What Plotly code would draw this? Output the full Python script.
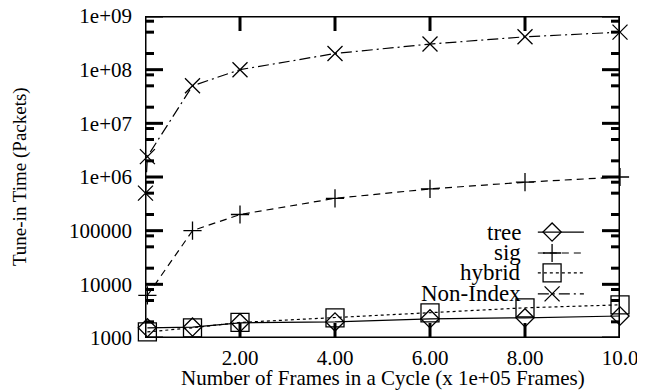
import plotly.graph_objects as go

# ---- data ----
x_tree = [0.05, 1, 2, 4, 6, 8, 10]
tree = [1550, 1600, 1920, 1990, 2280, 2380, 2570]

x_sig = [0.05, 1, 2, 4, 6, 8, 10]
sig = [6200, 1.0e5, 2.0e5, 4.0e5, 6.0e5, 8.0e5, 1.0e6]

x_hybrid = [0.05, 1, 2, 4, 6, 8, 10]
hybrid = [1300, 1550, 1950, 2380, 2950, 3650, 4150]

x_nonindex = [0.01, 0.05, 1, 2, 4, 6, 8, 10]
nonindex = [5.0e5, 2.4e6, 5.0e7, 1.0e8, 2.0e8, 3.0e8, 4.1e8, 5.0e8]

x_tickvals = [2, 4, 6, 8, 10]
x_ticktext = ["2.00", "4.00", "6.00", "8.00", "10.0"]
y_tickvals = [1e3, 1e4, 1e5, 1e6, 1e7, 1e8, 1e9]
y_ticktext = ["1000", "10000", "100000", "1e+06", "1e+07", "1e+08", "1e+09"]

series_names = ["tree", "sig", "hybrid", "Non-Index"]

# ---- styles / layout constants ----
FONT = "Liberation Serif"
X_RANGE = [0, 10]
Y_LOG_RANGE = [3, 9]
PLOT_W, PLOT_H = 475, 322
styles = {
    "tree": dict(symbol="diamond-open", size=14, dash="solid"),
    "sig": dict(symbol="cross-thin-open", size=13, dash="7px,5px"),
    "hybrid": dict(symbol="square-open", size=18, dash="3px,3px"),
    "Non-Index": dict(symbol="x-thin-open", size=15, dash="11px,4px,2px,4px"),
}
data = {
    "tree": (x_tree, tree),
    "sig": (x_sig, sig),
    "hybrid": (x_hybrid, hybrid),
    "Non-Index": (x_nonindex, nonindex),
}


def frac_to_xy(fx, fy):
    """plot-area fraction -> axis coordinates"""
    x = X_RANGE[0] + fx * (X_RANGE[1] - X_RANGE[0])
    y = 10 ** (Y_LOG_RANGE[0] + fy * (Y_LOG_RANGE[1] - Y_LOG_RANGE[0]))
    return x, y


fig = go.Figure()

# ---- frame and inside ticks (mirrored), drawn through the axes ----
frame_x, frame_y = [], []
for fx, fy in ((0, 0), (1, 0), (1, 1), (0, 1), (0, 0)):
    px, py = frac_to_xy(fx, fy)
    frame_x.append(px)
    frame_y.append(py)
fig.add_trace(go.Scatter(x=frame_x, y=frame_y, mode="lines", showlegend=False,
                         hoverinfo="skip", cliponaxis=False,
                         line=dict(color="black", width=3)))

tick_x, tick_y = [], []
xt = 15 / PLOT_H
for v in x_tickvals:
    for fa, fb in ((0, xt), (1 - xt, 1)):
        _, ya = frac_to_xy(0, fa)
        _, yb = frac_to_xy(0, fb)
        tick_x += [v, v, None]
        tick_y += [ya, yb, None]
yt = 18 / PLOT_W
for v in y_tickvals:
    for fa, fb in ((0, yt), (1 - yt, 1)):
        xa, _ = frac_to_xy(fa, 0)
        xb, _ = frac_to_xy(fb, 0)
        tick_x += [xa, xb, None]
        tick_y += [v, v, None]
minor_vals = [m * 10 ** e for e in range(3, 9) for m in (2, 5, 8)]
mt = 9 / PLOT_W
for v in minor_vals:
    for fa, fb in ((0, mt), (1 - mt, 1)):
        xa, _ = frac_to_xy(fa, 0)
        xb, _ = frac_to_xy(fb, 0)
        tick_x += [xa, xb, None]
        tick_y += [v, v, None]
fig.add_trace(go.Scatter(x=tick_x, y=tick_y, mode="lines", showlegend=False,
                         hoverinfo="skip", cliponaxis=False,
                         line=dict(color="black", width=3)))

# ---- data series ----
for name in series_names:
    xs, ys = data[name]
    st = styles[name]
    fig.add_trace(go.Scatter(
        x=xs, y=ys, mode="lines+markers", name=name, showlegend=False,
        cliponaxis=False,
        line=dict(color="black", width=1.2, dash=st["dash"]),
        marker=dict(symbol=st["symbol"], size=st["size"], color="black",
                    line=dict(color="black", width=1.3)),
    ))

# ---- custom legend (text left of sample, as in the reference) ----
leg_rows = [0.329, 0.264, 0.202, 0.137]
leg_text_x = 0.796
leg_line_x = [0.827, 0.924]
leg_marker_x = 0.857
for name, ry in zip(series_names, leg_rows):
    st = styles[name]
    x0, yy = frac_to_xy(leg_line_x[0], ry)
    x1, _ = frac_to_xy(leg_line_x[1], ry)
    xm, _ = frac_to_xy(leg_marker_x, ry)
    fig.add_trace(go.Scatter(
        x=[x0, x1], y=[yy, yy], mode="lines",
        showlegend=False, hoverinfo="skip", cliponaxis=False,
        line=dict(color="black", width=1.2, dash=st["dash"]),
    ))
    fig.add_trace(go.Scatter(
        x=[xm], y=[yy], mode="markers",
        showlegend=False, hoverinfo="skip", cliponaxis=False,
        marker=dict(symbol=st["symbol"], size=st["size"], color="black",
                    line=dict(color="black", width=1.3)),
    ))
    fig.add_annotation(x=leg_text_x, y=ry, xref="paper", yref="paper", text=name,
                       showarrow=False, xanchor="right", yanchor="middle",
                       font=dict(family=FONT, size=23, color="black"))

# ---- axis titles ----
fig.add_annotation(text="Number of Frames in a Cycle (x 1e+05 Frames)",
                   xref="paper", yref="paper", x=0.5, y=-0.124,
                   xanchor="center", yanchor="middle", showarrow=False,
                   font=dict(family=FONT, size=21, color="black"))
fig.add_annotation(text="Tune-in Time (Packets)",
                   xref="paper", yref="paper", x=-0.263, y=0.5, textangle=-90,
                   xanchor="center", yanchor="middle", showarrow=False,
                   font=dict(family=FONT, size=19, color="black"))

# the page body adds an 8px offset; shrink the figure to compensate
fig.update_layout(
    width=637, height=382,
    margin=dict(l=137, r=25, t=8, b=52),
    paper_bgcolor="white", plot_bgcolor="white",
    font=dict(family=FONT, size=20, color="black"),
    xaxis=dict(
        range=X_RANGE, tickmode="array", tickvals=x_tickvals, ticktext=x_ticktext,
        ticks="", showline=False, showgrid=False, zeroline=False,
        ticklabelstandoff=5, ticklabeloverflow="allow",
        tickfont=dict(family=FONT, size=21, color="black"),
        automargin=False,
    ),
    yaxis=dict(
        type="log", range=Y_LOG_RANGE, tickmode="array", tickvals=y_tickvals,
        ticktext=y_ticktext,
        ticks="", showline=False, showgrid=False, zeroline=False,
        ticklabelstandoff=12, ticklabeloverflow="allow",
        tickfont=dict(family=FONT, size=21, color="black"),
        automargin=False,
    ),
)

fig.write_html("out.html")
